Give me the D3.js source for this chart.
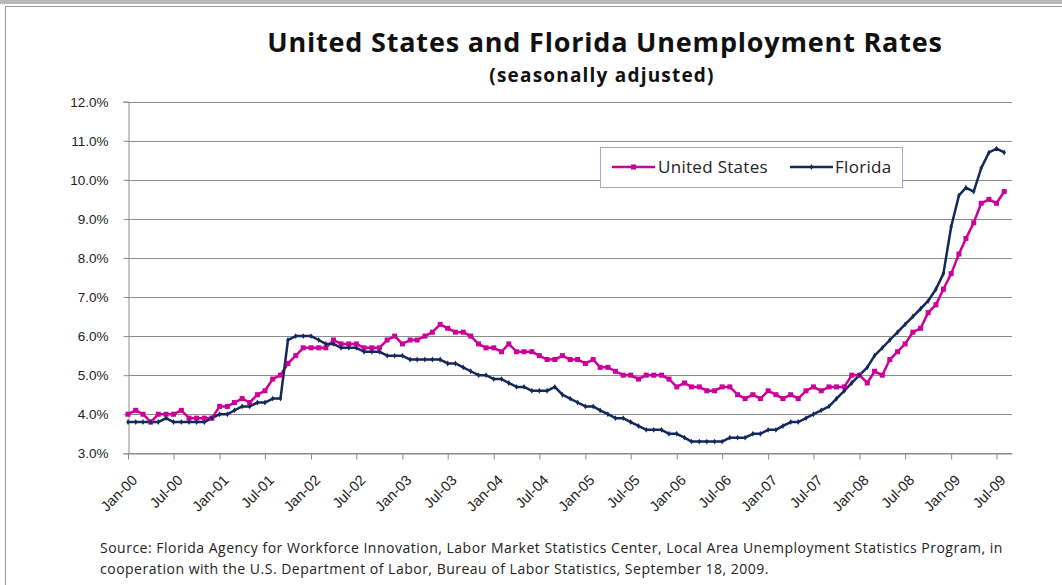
<!DOCTYPE html>
<html>
<head>
<meta charset="utf-8">
<script src="https://cdn.jsdelivr.net/npm/d3@7"></script>
<style>
  body { margin: 0; background: #fff; }
  svg { display: block; font-family: "Open Sans", Lato, sans-serif; }
  .grid line { stroke: #8c8c8c; stroke-width: 1; }
  .axis text { fill: #222; }
</style>
</head>
<body>
<div class="chart"></div>
<script>
// Monthly data, Jan-00 .. Aug-09
const startYear = 2000;
const usRates = [
  4.0, 4.1, 4.0, 3.8, 4.0, 4.0, 4.0, 4.1, 3.9, 3.9, 3.9, 3.9,
  4.2, 4.2, 4.3, 4.4, 4.3, 4.5, 4.6, 4.9, 5.0, 5.3, 5.5, 5.7,
  5.7, 5.7, 5.7, 5.9, 5.8, 5.8, 5.8, 5.7, 5.7, 5.7, 5.9, 6.0,
  5.8, 5.9, 5.9, 6.0, 6.1, 6.3, 6.2, 6.1, 6.1, 6.0, 5.8, 5.7,
  5.7, 5.6, 5.8, 5.6, 5.6, 5.6, 5.5, 5.4, 5.4, 5.5, 5.4, 5.4,
  5.3, 5.4, 5.2, 5.2, 5.1, 5.0, 5.0, 4.9, 5.0, 5.0, 5.0, 4.9,
  4.7, 4.8, 4.7, 4.7, 4.6, 4.6, 4.7, 4.7, 4.5, 4.4, 4.5, 4.4,
  4.6, 4.5, 4.4, 4.5, 4.4, 4.6, 4.7, 4.6, 4.7, 4.7, 4.7, 5.0,
  5.0, 4.8, 5.1, 5.0, 5.4, 5.6, 5.8, 6.1, 6.2, 6.6, 6.8, 7.2,
  7.6, 8.1, 8.5, 8.9, 9.4, 9.5, 9.4, 9.7
];
const flRates = [
  3.8, 3.8, 3.8, 3.8, 3.8, 3.9, 3.8, 3.8, 3.8, 3.8, 3.8, 3.9,
  4.0, 4.0, 4.1, 4.2, 4.2, 4.3, 4.3, 4.4, 4.4, 5.9, 6.0, 6.0,
  6.0, 5.9, 5.8, 5.8, 5.7, 5.7, 5.7, 5.6, 5.6, 5.6, 5.5, 5.5,
  5.5, 5.4, 5.4, 5.4, 5.4, 5.4, 5.3, 5.3, 5.2, 5.1, 5.0, 5.0,
  4.9, 4.9, 4.8, 4.7, 4.7, 4.6, 4.6, 4.6, 4.7, 4.5, 4.4, 4.3,
  4.2, 4.2, 4.1, 4.0, 3.9, 3.9, 3.8, 3.7, 3.6, 3.6, 3.6, 3.5,
  3.5, 3.4, 3.3, 3.3, 3.3, 3.3, 3.3, 3.4, 3.4, 3.4, 3.5, 3.5,
  3.6, 3.6, 3.7, 3.8, 3.8, 3.9, 4.0, 4.1, 4.2, 4.4, 4.6, 4.8,
  5.0, 5.2, 5.5, 5.7, 5.9, 6.1, 6.3, 6.5, 6.7, 6.9, 7.2, 7.6,
  8.8, 9.6, 9.8, 9.7, 10.3, 10.7, 10.8, 10.7
];
const yTicks = [3, 4, 5, 6, 7, 8, 9, 10, 11, 12];
const seriesNames = ['United States', 'Florida'];
const seriesColors = ['#cc0099', '#13295a'];

const width = 1062;
const height = 585;
const plot = { left: 128, right: 1012, top: 101.7, bottom: 453.3 };

const svg = d3.select('.chart')
  .append('svg')
  .attr('width', width)
  .attr('height', height);

// window / chart-area frame
svg.append('rect').attr('x', 0).attr('y', 0).attr('width', width).attr('height', 4).attr('fill', '#b8b8b8');
svg.append('line').attr('x1', 5).attr('x2', width).attr('y1', 6.5).attr('y2', 6.5).attr('stroke', '#9a9a9a');
svg.append('line').attr('x1', 5.5).attr('x2', 5.5).attr('y1', 6).attr('y2', height).attr('stroke', '#9a9a9a');

const dates = usRates.map((d, i) => new Date(startYear, i, 1));
const x = d3.scaleTime()
  .domain([new Date(startYear, 0, 1), new Date(2009, 8, 1)])
  .range([plot.left, plot.right]);
const y = d3.scaleLinear()
  .domain([3, 12])
  .range([plot.bottom, plot.top]);

// gridlines
svg.append('g')
  .attr('class', 'grid')
  .selectAll('line')
  .data(yTicks)
  .enter()
  .append('line')
  .attr('x1', plot.left)
  .attr('x2', plot.right)
  .attr('y1', d => Math.round(y(d)) + 0.5)
  .attr('y2', d => Math.round(y(d)) + 0.5);

// y axis
const yAxis = svg.append('g')
  .attr('class', 'axis')
  .attr('transform', `translate(${plot.left + 0.5},0)`)
  .call(d3.axisLeft(y).tickValues(yTicks).tickFormat(d => d.toFixed(1) + '%').tickSize(5).tickPadding(15));
yAxis.selectAll('text').style('font-size', '13.5px');
yAxis.selectAll('line, path').attr('stroke', '#8c8c8c');

// x axis
const xTicks = d3.timeMonth.every(6).range(new Date(startYear, 0, 1), new Date(2009, 8, 1));
const xAxis = svg.append('g')
  .attr('class', 'axis')
  .attr('transform', `translate(0,${Math.round(plot.bottom) + 0.5})`)
  .call(d3.axisBottom(x).tickValues(xTicks).tickFormat(d3.timeFormat('%b-%y')).tickSize(6).tickSizeOuter(0));
xAxis.selectAll('line, path').attr('stroke', '#8c8c8c');
xAxis.selectAll('text')
  .style('font-size', '14.5px')
  .attr('text-anchor', 'end')
  .attr('transform', 'translate(6,24) rotate(-45)')
  .attr('dy', '0.35em')
  .attr('y', 0)
  .attr('x', 0);

// series
const line = d3.line()
  .x((d, i) => x(dates[i]))
  .y(d => y(d));

[usRates, flRates].forEach((values, s) => {
  svg.append('path')
    .datum(values)
    .attr('fill', 'none')
    .attr('stroke', seriesColors[s])
    .attr('stroke-width', 2.5)
    .attr('stroke-linejoin', 'round')
    .attr('d', line);
});

// markers
svg.append('g')
  .selectAll('rect')
  .data(usRates)
  .enter()
  .append('rect')
  .attr('x', (d, i) => x(dates[i]) - 2.5)
  .attr('y', d => y(d) - 2.5)
  .attr('width', 5)
  .attr('height', 5)
  .attr('fill', seriesColors[0]);

svg.append('g')
  .selectAll('path')
  .data(flRates)
  .enter()
  .append('path')
  .attr('d', d3.symbol(d3.symbolDiamond, 10))
  .attr('transform', (d, i) => `translate(${x(dates[i])},${y(d)})`)
  .attr('fill', seriesColors[1]);

// legend
const legend = svg.append('g').attr('transform', 'translate(600,147)');
legend.append('rect')
  .attr('x', 0.5).attr('y', 0.5)
  .attr('width', 302).attr('height', 40)
  .attr('fill', '#fff')
  .attr('stroke', '#b39ddb');
const items = [{ x: 12, w: 43, tx: 58 }, { x: 190, w: 43, tx: 235 }];
items.forEach((it, s) => {
  legend.append('line')
    .attr('x1', it.x).attr('x2', it.x + it.w)
    .attr('y1', 20).attr('y2', 20)
    .attr('stroke', seriesColors[s]).attr('stroke-width', 2.5);
  if (s === 0) {
    legend.append('rect').attr('x', it.x + it.w / 2 - 2.5).attr('y', 17.5).attr('width', 5).attr('height', 5).attr('fill', seriesColors[0]);
  } else {
    legend.append('path').attr('d', d3.symbol(d3.symbolDiamond, 10)).attr('transform', `translate(${it.x + it.w / 2},20)`).attr('fill', seriesColors[1]);
  }
  legend.append('text')
    .attr('x', it.tx).attr('y', 20).attr('dy', '0.35em')
    .style('font-size', '17px').style('letter-spacing', '0.3px').attr('fill', '#222')
    .text(seriesNames[s]);
});

// titles
svg.append('text')
  .attr('x', 605).attr('y', 52)
  .attr('text-anchor', 'middle')
  .style('font-size', '27px').style('font-weight', 'bold').style('letter-spacing', '0.8px').attr('fill', '#111')
  .text('United States and Florida Unemployment Rates');
svg.append('text')
  .attr('x', 602).attr('y', 82)
  .attr('text-anchor', 'middle')
  .style('font-size', '19px').style('font-weight', 'bold').style('letter-spacing', '1.2px').attr('fill', '#111')
  .text('(seasonally adjusted)');

// source note
const source = [
  'Source:  Florida Agency for Workforce Innovation, Labor Market Statistics Center, Local Area Unemployment Statistics Program, in',
  'cooperation with the U.S. Department of Labor, Bureau of Labor Statistics, September 18, 2009.'
];
svg.append('g')
  .selectAll('text')
  .data(source)
  .enter()
  .append('text')
  .attr('x', 100)
  .attr('y', (d, i) => 553 + i * 21)
  .style('font-size', '14px').style('letter-spacing', '0.5px').attr('fill', '#222')
  .text(d => d);
</script>
</body>
</html>
